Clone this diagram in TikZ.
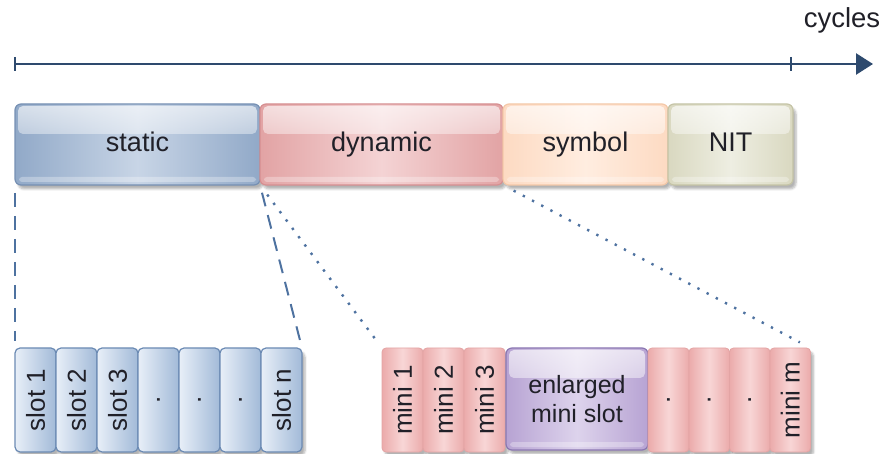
\documentclass[tikz,border=0pt]{standalone}
\usepackage{fontspec}
\setmainfont{Liberation Sans}
\usetikzlibrary{calc}
\usetikzlibrary{positioning}
\usetikzlibrary{arrows.meta}
\usetikzlibrary{shadows.blur}
\usetikzlibrary{fadings}

\definecolor{axisblue}{HTML}{2E4A6E}
\definecolor{linkblue}{HTML}{4E72A0}
\definecolor{inktext}{HTML}{202028}
% cycle segments
\definecolor{statA}{HTML}{91A9C8}
\definecolor{statB}{HTML}{C8D5E6}
\definecolor{statL}{HTML}{7690B3}
\definecolor{dynA}{HTML}{E2A3A4}
\definecolor{dynB}{HTML}{F4D3D4}
\definecolor{dynL}{HTML}{D68F91}
\definecolor{symA}{HTML}{FDDAC2}
\definecolor{symB}{HTML}{FFEDE0}
\definecolor{symL}{HTML}{F4C8A8}
\definecolor{nitA}{HTML}{D9D8C0}
\definecolor{nitB}{HTML}{EEEEE2}
\definecolor{nitL}{HTML}{C5C4A6}
% slots
\definecolor{slotA}{HTML}{E8EFF8}
\definecolor{slotB}{HTML}{A2BAD8}
\definecolor{slotL}{HTML}{6C8BB4}
\definecolor{miniA}{HTML}{EBABAB}
\definecolor{miniB}{HTML}{F8D6D6}
\definecolor{miniL}{HTML}{E3A4A4}
\definecolor{enlA}{HTML}{B7A3D3}
\definecolor{enlB}{HTML}{DDD3EC}
\definecolor{enlL}{HTML}{8B77B2}

\tikzfading[name=glossfade, top color=transparent!35, bottom color=transparent!100]

\tikzset{
  box/.style={rounded corners=6pt, line width=1.2pt, inner sep=0pt, outer sep=0pt,
    text=inktext, font=\fontsize{26}{30}\selectfont,
    blur shadow={shadow xshift=3pt, shadow yshift=-4pt, shadow blur steps=6, shadow opacity=30}},
  glossy/.style={box,
    path picture={
      \fill[white, path fading=glossfade, rounded corners=5pt]
        ($(path picture bounding box.north west)+(3,2)$) rectangle
        ($(path picture bounding box.north east)+(-3,30)$);
      \fill[white, opacity=0.3, rounded corners=3pt]
        ($(path picture bounding box.south west)+(4,-8)$) rectangle
        ($(path picture bounding box.south east)+(-4,-3)$);
    }},
  phase/.style={glossy, minimum width=#1, minimum height=81pt,
    font=\fontsize{27}{31}\selectfont, text height=19pt, text depth=5pt},
  staticc/.style={draw=statL, left color=statA, right color=statA, middle color=statB},
  dync/.style={draw=dynL, left color=dynA, right color=dynA, middle color=dynB},
  symc/.style={draw=symL, left color=symA, right color=symA, middle color=symB},
  nitc/.style={draw=nitL, left color=nitA, right color=nitA, middle color=nitB},
  slot/.style={box, rounded corners=5pt, minimum width=41pt, minimum height=104pt,
    draw=slotL, left color=slotA, right color=slotB},
  mini/.style={box, rounded corners=4pt, line width=0.8pt, minimum width=#1, minimum height=104pt,
    draw=miniL, left color=miniA, right color=miniA, middle color=miniB},
  enlarged/.style={glossy, minimum width=142pt, minimum height=102pt, align=center,
    font=\fontsize{25}{29}\selectfont,
    draw=enlL, left color=enlA, right color=enlA, middle color=enlB},
  axis/.style={axisblue, line width=2.5pt},
  zoomdash/.style={linkblue, line width=2pt, dash pattern=on 14pt off 9pt, shorten <=8pt, shorten >=7pt},
  zoomdot/.style={linkblue, line width=2.4pt, dash pattern=on 2.4pt off 8pt, shorten <=12pt, shorten >=12pt},
}

\begin{document}
\begin{tikzpicture}[x=1pt, y=-1pt]
  \useasboundingbox (0,0) rectangle (884,454);

  % time axis
  \coordinate (t0) at (15,64);
  \coordinate (t1) at (791,64);
  \coordinate (tip) at (873,64);
  \draw[axis, -{Triangle[length=17pt, width=21pt]}] (t0) -- (tip);
  \draw[axis] ($(t0)+(0,-7)$) -- ($(t0)+(0,7)$);
  \draw[axis] ($(t1)+(0,-7)$) -- ($(t1)+(0,7)$);
  \node[text=inktext, font=\fontsize{27.5}{31}\selectfont] (cycles) at (842,20) {cycles};

  % one cycle
  \node[phase=245pt, staticc, anchor=north west] (static) at (15,104) {static};
  \node[phase=243pt, dync, right=0pt of static] (dynamic) {dynamic};
  \node[phase=165pt, symc, right=0pt of dynamic] (symbol) {symbol};
  \node[phase=125pt, nitc, right=0pt of symbol] (nit) {NIT};

  % static segment
  \node[slot, anchor=north west] (slot1) at (15,348) {\rotatebox{90}{slot 1}};
  \foreach \t [count=\i from 2, remember=\i as \p (initially 1)] in {slot 2, slot 3, ., ., ., slot n}
    \node[slot, right=0pt of slot\p] (slot\i) {\rotatebox{90}{\t}};

  % dynamic segment
  \node[mini=41pt, anchor=north west] (mini1) at (382,348) {\rotatebox{90}{mini 1}};
  \node[mini=41pt, right=0pt of mini1] (mini2) {\rotatebox{90}{mini 2}};
  \node[mini=41pt, right=0pt of mini2] (mini3) {\rotatebox{90}{mini 3}};
  \node[enlarged, anchor=north west] (enl) at ($(mini3.north east)+(1,0)$) {enlarged\\mini slot};
  \node[mini=41pt, anchor=north west] (mini4) at (enl.north east) {\rotatebox{90}{.}};
  \foreach \t [count=\i from 5, remember=\i as \p (initially 4)] in {., ., mini m}
    \node[mini=40.5pt, right=0pt of mini\p] (mini\i) {\rotatebox{90}{\t}};

  % zoom lines
  \draw[zoomdash] (static.south west) -- (slot1.north west);
  \draw[zoomdash] (static.south east) -- (slot7.north east);
  \draw[zoomdot] (dynamic.south west) -- (mini1.north west);
  \draw[zoomdot] (dynamic.south east) -- (mini7.north east);
\end{tikzpicture}
\end{document}
